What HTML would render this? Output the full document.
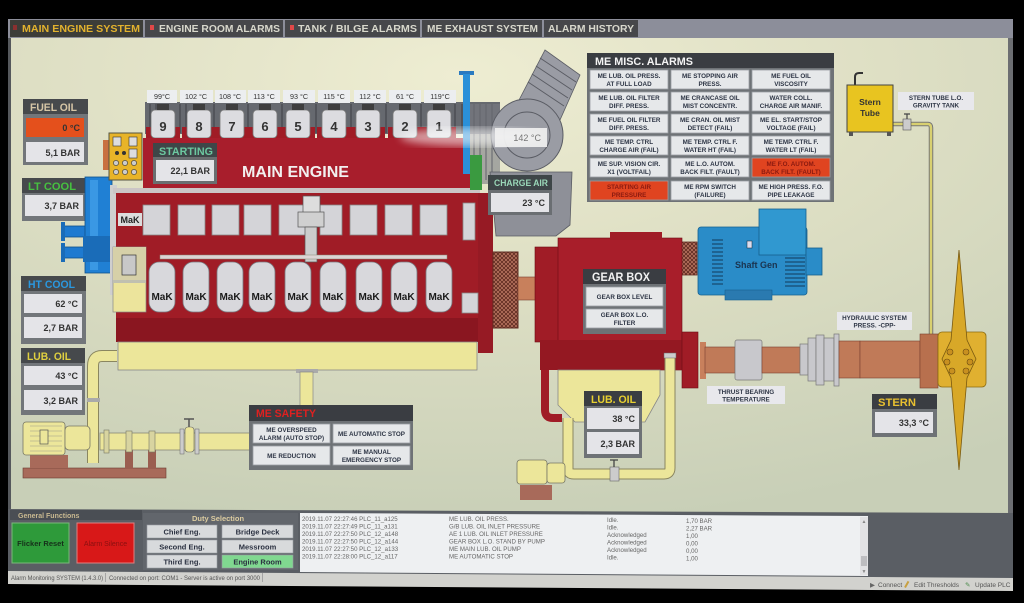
<!DOCTYPE html>
<html><head><meta charset="utf-8">
<style>
html,body{margin:0;padding:0;background:#000;overflow:hidden;}
svg{display:block;}
text{font-family:"Liberation Sans",sans-serif;}
.b{font-weight:bold;}
.m{font-family:"Liberation Mono",monospace;font-size:6.1px;fill:#666;}
.bt{font-weight:bold;font-size:6.3px;fill:#2c3444;text-anchor:middle;}
.v{font-weight:bold;font-size:9px;fill:#333;text-anchor:end;}
.h{font-weight:bold;font-size:11px;}
</style></head><body>
<svg width="1024" height="603" viewBox="0 0 1024 603" xmlns="http://www.w3.org/2000/svg">
<defs>
<radialGradient id="bg" cx="0.45" cy="0.08" r="0.95">
 <stop offset="0" stop-color="#eeedd2"/>
 <stop offset="0.45" stop-color="#dedfc4"/>
 <stop offset="1" stop-color="#c8cfb7"/>
</radialGradient>
<pattern id="mesh" width="4" height="4" patternUnits="userSpaceOnUse">
 <rect width="4" height="4" fill="#b87460"/>
 <path d="M0 0L4 4M4 0L0 4" stroke="#5e2a20" stroke-width="0.8"/>
</pattern>
<filter id="blur"><feGaussianBlur stdDeviation="4"/></filter>
</defs>
<rect width="1024" height="603" fill="#000"/>

<!-- top tab bar -->
<rect x="8" y="19" width="1005" height="19" fill="#8c8e9a"/>
<rect x="10" y="20" width="133" height="17" fill="#3c3d38"/>
<rect x="13" y="25" width="4" height="5" fill="#8a3030"/>
<text x="22" y="32" class="b" font-size="10" fill="#e2b22e" textLength="118" lengthAdjust="spacingAndGlyphs">MAIN ENGINE SYSTEM</text>
<rect x="145" y="20" width="138" height="17" fill="#46474a"/>
<rect x="150" y="25" width="4" height="5" fill="#e04848"/>
<text x="159" y="32" class="b" font-size="10" fill="#d8d8cc" textLength="121" lengthAdjust="spacingAndGlyphs">ENGINE ROOM ALARMS</text>
<rect x="285" y="20" width="135" height="17" fill="#46474a"/>
<rect x="290" y="25" width="4" height="5" fill="#e04848"/>
<text x="298" y="32" class="b" font-size="10" fill="#d8d8cc" textLength="119" lengthAdjust="spacingAndGlyphs">TANK / BILGE  ALARMS</text>
<rect x="422" y="20" width="120" height="17" fill="#46474a"/>
<text x="427" y="32" class="b" font-size="10" fill="#d8d8cc" textLength="111" lengthAdjust="spacingAndGlyphs">ME EXHAUST SYSTEM</text>
<rect x="544" y="20" width="94" height="17" fill="#46474a"/>
<text x="548" y="32" class="b" font-size="10" fill="#d8d8cc" textLength="86" lengthAdjust="spacingAndGlyphs">ALARM HISTORY</text>

<!-- canvas -->
<rect x="10" y="38" width="998" height="476" fill="url(#bg)"/>
<rect x="1008" y="38" width="5" height="478" fill="#6c6e72"/>
<rect x="8" y="38" width="3" height="475" fill="#55585c"/>

<!-- LEFT PANELS -->
<rect x="23" y="99" width="65" height="66" fill="#72767a"/>
<rect x="23" y="99" width="65" height="15" fill="#46494c"/>
<text x="30" y="111" class="h" fill="#d6c6a6" textLength="47" lengthAdjust="spacingAndGlyphs">FUEL OIL</text>
<rect x="26" y="118" width="58" height="19" fill="#e4501c"/>
<text x="80" y="131" class="v" fill="#7a2010">0 °C</text>
<rect x="26" y="142" width="58" height="20" fill="#e4e4e8"/>
<text x="80" y="156" class="v">5,1 BAR</text>

<rect x="22" y="178" width="65" height="43" fill="#72767a"/>
<rect x="22" y="178" width="65" height="15" fill="#46494c"/>
<text x="28" y="190" class="h" fill="#46c040" textLength="48" lengthAdjust="spacingAndGlyphs">LT COOL</text>
<rect x="25" y="195" width="58" height="21" fill="#e4e4e8"/>
<text x="79" y="209" class="v">3,7 BAR</text>

<rect x="21" y="276" width="65" height="68" fill="#72767a"/>
<rect x="21" y="276" width="65" height="15" fill="#46494c"/>
<text x="28" y="288" class="h" fill="#2a98e0" textLength="47" lengthAdjust="spacingAndGlyphs">HT COOL</text>
<rect x="24" y="294" width="58" height="19" fill="#e4e4e8"/>
<text x="78" y="307" class="v">62 °C</text>
<rect x="24" y="317" width="58" height="21" fill="#e4e4e8"/>
<text x="78" y="331" class="v">2,7 BAR</text>

<rect x="21" y="348" width="64" height="67" fill="#72767a"/>
<rect x="21" y="348" width="64" height="15" fill="#46494c"/>
<text x="27" y="360" class="h" fill="#e0d040" textLength="44" lengthAdjust="spacingAndGlyphs">LUB. OIL</text>
<rect x="24" y="366" width="58" height="19" fill="#e4e4e8"/>
<text x="78" y="379" class="v">43 °C</text>
<rect x="24" y="390" width="58" height="20" fill="#e4e4e8"/>
<text x="78" y="404" class="v">3,2 BAR</text>

<!-- blue pipes -->
<rect x="63" y="226" width="32" height="11" fill="#1e7ad0" stroke="#10508a" stroke-width="0.8"/>
<rect x="63" y="247" width="32" height="11" fill="#1e7ad0" stroke="#10508a" stroke-width="0.8"/>
<rect x="61" y="222" width="4" height="19" fill="#1a6cb8"/>
<rect x="61" y="243" width="4" height="19" fill="#1a6cb8"/>
<rect x="85" y="177" width="27" height="96" fill="#2080d4" stroke="#10508a" stroke-width="0.8"/>
<rect x="90" y="180" width="8" height="90" fill="#3a98e4"/>
<rect x="83" y="236" width="30" height="26" fill="#1a6cb8"/>
<!-- control box -->
<rect x="103" y="140" width="7" height="30" fill="#c87040"/>
<rect x="109" y="133" width="33" height="47" fill="#e8b428" stroke="#554" stroke-width="1"/>
<rect x="113" y="137" width="8" height="9" fill="#ddd" stroke="#333" stroke-width="0.6"/>
<rect x="129" y="137" width="8" height="9" fill="#ddd" stroke="#333" stroke-width="0.6"/>
<rect x="129" y="149" width="8" height="9" fill="#ddd" stroke="#333" stroke-width="0.6"/>
<circle cx="117" cy="153" r="2" fill="#333"/><circle cx="124" cy="153" r="2" fill="#333"/>
<circle cx="116" cy="163" r="2.6" fill="#ccc" stroke="#333" stroke-width="0.6"/><circle cx="125" cy="163" r="2.6" fill="#ccc" stroke="#333" stroke-width="0.6"/><circle cx="134" cy="163" r="2.6" fill="#ccc" stroke="#333" stroke-width="0.6"/>
<circle cx="116" cy="172" r="2.6" fill="#ccc" stroke="#333" stroke-width="0.6"/><circle cx="125" cy="172" r="2.6" fill="#ccc" stroke="#333" stroke-width="0.6"/><circle cx="134" cy="172" r="2.6" fill="#ccc" stroke="#333" stroke-width="0.6"/>

<!-- ENGINE -->
<rect x="145" y="102" width="355" height="32" fill="#66696f"/>
<g stroke="#3e4046" stroke-width="1">
<path d="M150 104V133M156 104V133M180 104V133M186 104V133M214 104V133M248 104V133M282 104V133M316 104V133M351 104V133M386 104V133M421 104V133M455 104V133M462 104V133M474 104V180M480 104V180M486 104V180M492 104V180"/>
</g>
<rect x="470" y="104" width="30" height="80" fill="#7a7c84" opacity="0.6"/>
<g fill="#a01c26">
<rect x="146" y="127" width="34" height="11"/><rect x="182" y="127" width="34" height="11"/><rect x="215" y="127" width="34" height="11"/><rect x="248" y="127" width="34" height="11"/><rect x="281" y="127" width="34" height="11"/><rect x="317" y="127" width="34" height="11"/><rect x="351" y="127" width="34" height="11"/><rect x="388" y="127" width="34" height="11"/><rect x="422" y="127" width="34" height="11"/>
</g>
<g fill="#dcdce0" stroke="#777" stroke-width="0.8">
<rect x="151" y="110" width="24" height="28" rx="4"/><rect x="187" y="110" width="24" height="28" rx="4"/><rect x="220" y="110" width="24" height="28" rx="4"/><rect x="253" y="110" width="24" height="28" rx="4"/><rect x="286" y="110" width="24" height="28" rx="4"/><rect x="322" y="110" width="24" height="28" rx="4"/><rect x="356" y="110" width="24" height="28" rx="4"/><rect x="393" y="110" width="24" height="28" rx="4"/><rect x="427" y="110" width="24" height="28" rx="4"/>
</g>
<g fill="#3e3e3e">
<rect x="157" y="104" width="12" height="6"/><rect x="193" y="104" width="12" height="6"/><rect x="226" y="104" width="12" height="6"/><rect x="259" y="104" width="12" height="6"/><rect x="292" y="104" width="12" height="6"/><rect x="328" y="104" width="12" height="6"/><rect x="362" y="104" width="12" height="6"/><rect x="399" y="104" width="12" height="6"/><rect x="433" y="104" width="12" height="6"/>
</g>
<g class="b" font-size="13" fill="#333" text-anchor="middle">
<text x="163" y="131">9</text><text x="199" y="131">8</text><text x="232" y="131">7</text><text x="265" y="131">6</text><text x="298" y="131">5</text><text x="334" y="131">4</text><text x="368" y="131">3</text><text x="405" y="131">2</text><text x="439" y="131">1</text>
</g>
<g fill="#eceef0">
<rect x="147" y="90" width="30" height="13"/><rect x="180" y="90" width="33" height="13"/><rect x="215" y="90" width="31" height="13"/><rect x="248" y="90" width="32" height="13"/><rect x="283" y="90" width="32" height="13"/><rect x="318" y="90" width="32" height="13"/><rect x="354" y="90" width="32" height="13"/><rect x="389" y="90" width="32" height="13"/><rect x="424" y="90" width="32" height="13"/>
</g>
<g font-size="7.2" fill="#333" text-anchor="middle">
<text x="162" y="99">99°C</text><text x="196" y="99">102 °C</text><text x="230" y="99">108 °C</text><text x="264" y="99">113 °C</text><text x="299" y="99">93 °C</text><text x="334" y="99">115 °C</text><text x="370" y="99">112 °C</text><text x="405" y="99">61 °C</text><text x="440" y="99">119°C</text>
</g>

<!-- upper red block -->
<rect x="143" y="138" width="327" height="50" fill="#a81e2c"/>
<rect x="153" y="143" width="64" height="41" fill="#6a6e70"/>
<rect x="153" y="143" width="64" height="14" fill="#3e4648"/>
<text x="159" y="155" class="h" fill="#6cc8a0" textLength="54" lengthAdjust="spacingAndGlyphs">STARTING</text>
<rect x="156" y="160" width="58" height="21" fill="#e4e4e8"/>
<text x="210" y="174" class="v">22,1 BAR</text>
<text x="242" y="177" class="b" font-size="16" fill="#f2f0f0" textLength="107" lengthAdjust="spacingAndGlyphs">MAIN ENGINE</text>

<!-- lower engine body -->
<rect x="110" y="185" width="7" height="110" fill="#cfcfcf"/>
<rect x="113" y="188" width="367" height="6" fill="#cbc6c6"/>
<rect x="116" y="193" width="377" height="132" fill="#a01c26"/>
<rect x="116" y="318" width="364" height="24" fill="#8a1620"/>
<rect x="478" y="193" width="15" height="160" fill="#961a24"/>
<rect x="118" y="213" width="24" height="13" fill="#dcdcdc"/>
<text x="130" y="223" class="b" font-size="9" fill="#222" text-anchor="middle">MaK</text>
<g fill="#d4d4d8" stroke="#888" stroke-width="0.8">
<rect x="143" y="205" width="27" height="30"/><rect x="178" y="205" width="27" height="30"/><rect x="212" y="205" width="27" height="30"/><rect x="244" y="205" width="27" height="30"/><rect x="279" y="205" width="27" height="30"/><rect x="320" y="205" width="22" height="30"/><rect x="350" y="205" width="27" height="30"/><rect x="385" y="205" width="27" height="30"/><rect x="420" y="205" width="27" height="30"/>
<rect x="463" y="203" width="12" height="37"/>
<rect x="462" y="293" width="16" height="20"/>
</g>
<!-- instrument -->
<rect x="303" y="196" width="17" height="18" fill="#ddd" stroke="#555" stroke-width="0.7"/>
<rect x="298" y="212" width="26" height="15" fill="#d0d0d0" stroke="#555" stroke-width="0.7"/>
<rect x="305" y="227" width="12" height="35" fill="#ccc" stroke="#555" stroke-width="0.7"/>
<rect x="160" y="255" width="287" height="4" fill="#dcd4d4" stroke="#887" stroke-width="0.5"/>
<g fill="#d8d8dc" stroke="#7a7a80" stroke-width="0.8">
<rect x="149" y="262" width="26" height="50" rx="10"/><rect x="183" y="262" width="26" height="50" rx="10"/><rect x="217" y="262" width="26" height="50" rx="10"/><rect x="249" y="262" width="26" height="50" rx="10"/><rect x="285" y="262" width="26" height="50" rx="10"/><rect x="320" y="262" width="26" height="50" rx="10"/><rect x="356" y="262" width="26" height="50" rx="10"/><rect x="391" y="262" width="26" height="50" rx="10"/><rect x="426" y="262" width="26" height="50" rx="10"/>
</g>
<g class="b" font-size="10" fill="#1a1a1a" text-anchor="middle">
<text x="162" y="300">MaK</text><text x="196" y="300">MaK</text><text x="230" y="300">MaK</text><text x="262" y="300">MaK</text><text x="298" y="300">MaK</text><text x="333" y="300">MaK</text><text x="369" y="300">MaK</text><text x="404" y="300">MaK</text><text x="439" y="300">MaK</text>
</g>
<!-- governor box -->
<rect x="113" y="247" width="33" height="65" fill="#ece49c" stroke="#888" stroke-width="0.7"/>
<rect x="113" y="247" width="33" height="33" fill="#d6d0a8"/>
<rect x="122" y="255" width="14" height="20" fill="#c8c8c8" stroke="#333" stroke-width="0.7"/>
<rect x="113" y="280" width="33" height="3" fill="#c0c0b0"/>
<!-- coupling -->
<rect x="493" y="252" width="25" height="76" fill="url(#mesh)" stroke="#5e2a20" stroke-width="1"/>
<!-- sump -->
<rect x="118" y="342" width="359" height="28" fill="#ece69a" stroke="#888" stroke-width="0.8"/>
<rect x="296" y="369" width="22" height="4" fill="#aaa"/>
<rect x="300" y="372" width="13" height="34" fill="#ece69a" stroke="#888" stroke-width="0.7"/>
<!-- left lub pipe -->
<path d="M117 356 L102 356 Q93 356 93 366 L93 463" fill="none" stroke="#8a8660" stroke-width="12"/>
<path d="M117 356 L102 356 Q93 356 93 366 L93 463" fill="none" stroke="#ece69a" stroke-width="10"/>
<rect x="87" y="398" width="13" height="4" fill="#aaa"/>
<!-- left pump -->
<rect x="23" y="468" width="143" height="10" fill="#a86a5a" stroke="#6a3a30" stroke-width="0.6"/>
<rect x="30" y="455" width="38" height="13" fill="#a86a5a"/>
<rect x="125" y="450" width="8" height="19" fill="#9a5e50"/>
<rect x="148" y="450" width="8" height="19" fill="#9a5e50"/>
<rect x="23" y="422" width="42" height="33" rx="3" fill="#ece69a" stroke="#776" stroke-width="0.8"/>
<g stroke="#998" stroke-width="0.6"><path d="M30 426H62M30 431H62M30 436H62M30 441H62M30 446H62M30 451H62"/></g>
<rect x="40" y="430" width="8" height="14" fill="#ece69a" stroke="#555" stroke-width="0.7"/>
<rect x="65" y="426" width="25" height="24" rx="4" fill="#ece69a" stroke="#776" stroke-width="0.8"/>
<rect x="100" y="433" width="150" height="17" fill="#ece69a" stroke="#887" stroke-width="0.8"/>
<rect x="104" y="430" width="5" height="23" fill="#d8d4a0" stroke="#776" stroke-width="0.6"/>
<rect x="126" y="431" width="6" height="21" fill="#d8d4a0" stroke="#776" stroke-width="0.6"/>
<rect x="149" y="431" width="6" height="21" fill="#d8d4a0" stroke="#776" stroke-width="0.6"/>
<rect x="180" y="429" width="4" height="25" fill="#ccc" stroke="#666" stroke-width="0.5"/>
<rect x="195" y="429" width="4" height="25" fill="#ccc" stroke="#666" stroke-width="0.5"/>
<rect x="185" y="427" width="9" height="25" rx="3" fill="#ece69a" stroke="#666" stroke-width="0.6"/>
<path d="M189 427V419M184 419H194" stroke="#555" stroke-width="1.5"/>

<!-- TURBO -->
<path d="M490 172 L572 172 L570 225 L556 236 L496 236 Z" fill="#8e9098" stroke="#5a5c64" stroke-width="0.8"/>
<polygon points="518,102 545,50 580,75 560,120" fill="#9a9ca4" stroke="#5a5c64" stroke-width="0.8"/>
<g stroke="#5a5c64" stroke-width="1"><path d="M540 58L576 82M536 66L572 90M532 74L568 98M528 82L564 106"/></g>
<circle cx="527" cy="135" r="36" fill="#9a9ca4" stroke="#5a5c64" stroke-width="1"/>
<circle cx="527" cy="135" r="23" fill="none" stroke="#5a5c64" stroke-width="1"/>
<rect x="459" y="71" width="15" height="4" fill="#2a7ac0"/>
<rect x="463" y="74" width="7" height="100" fill="#2a90d8"/>
<rect x="470" y="155" width="12" height="35" fill="#3a9a40"/>
<ellipse cx="470" cy="137" rx="70" ry="9" fill="#ffffff" opacity="0.55" filter="url(#blur)"/>
<rect x="495" y="128" width="52" height="19" fill="#f2f2f2" opacity="0.9"/>
<text x="541" y="141" font-size="9" fill="#777" text-anchor="end">142 °C</text>
<rect x="488" y="175" width="64" height="40" fill="#6a6e72"/>
<rect x="488" y="175" width="64" height="15" fill="#3e4648"/>
<text x="494" y="186" class="b" font-size="9.5" fill="#9ad8b8" textLength="54" lengthAdjust="spacingAndGlyphs">CHARGE AIR</text>
<rect x="491" y="193" width="58" height="19" fill="#e4e4e8"/>
<text x="545" y="206" class="v">23 °C</text>

<!-- ME MISC ALARMS -->
<rect x="587" y="53" width="247" height="149" fill="#6e7276"/>
<rect x="587" y="53" width="247" height="15" fill="#3a3d42"/>
<text x="595" y="65" class="h" fill="#f4f4f4" textLength="98" lengthAdjust="spacingAndGlyphs">ME MISC. ALARMS</text>
<g fill="#e6e8ea" stroke="#9a9ea4" stroke-width="0.8">
<rect x="590" y="70" width="78" height="19"/><rect x="671" y="70" width="78" height="19"/><rect x="752" y="70" width="78" height="19"/>
<rect x="590" y="92" width="78" height="19"/><rect x="671" y="92" width="78" height="19"/><rect x="752" y="92" width="78" height="19"/>
<rect x="590" y="114" width="78" height="19"/><rect x="671" y="114" width="78" height="19"/><rect x="752" y="114" width="78" height="19"/>
<rect x="590" y="136" width="78" height="19"/><rect x="671" y="136" width="78" height="19"/><rect x="752" y="136" width="78" height="19"/>
<rect x="590" y="158" width="78" height="19"/><rect x="671" y="158" width="78" height="19"/><rect x="752" y="158" width="78" height="19" fill="#e04420"/>
<rect x="590" y="181" width="78" height="19" fill="#e04420"/><rect x="671" y="181" width="78" height="19"/><rect x="752" y="181" width="78" height="19"/>
</g>
<g class="bt">
<text x="629" y="78">ME LUB. OIL PRESS.</text><text x="629" y="86">AT FULL LOAD</text>
<text x="710" y="78">ME STOPPING AIR</text><text x="710" y="86">PRESS.</text>
<text x="791" y="78">ME FUEL OIL</text><text x="791" y="86">VISCOSITY</text>
<text x="629" y="100">ME LUB. OIL FILTER</text><text x="629" y="108">DIFF. PRESS.</text>
<text x="710" y="100">ME CRANCASE OIL</text><text x="710" y="108">MIST CONCENTR.</text>
<text x="791" y="100">WATER COLL.</text><text x="791" y="108">CHARGE AIR MANIF.</text>
<text x="629" y="122">ME FUEL OIL FILTER</text><text x="629" y="130">DIFF. PRESS.</text>
<text x="710" y="122">ME CRAN. OIL MIST</text><text x="710" y="130">DETECT (FAIL)</text>
<text x="791" y="122">ME EL. START/STOP</text><text x="791" y="130">VOLTAGE (FAIL)</text>
<text x="629" y="144">ME TEMP. CTRL</text><text x="629" y="152">CHARGE AIR (FAIL)</text>
<text x="710" y="144">ME TEMP. CTRL F.</text><text x="710" y="152">WATER HT (FAIL)</text>
<text x="791" y="144">ME TEMP. CTRL F.</text><text x="791" y="152">WATER LT (FAIL)</text>
<text x="629" y="166">ME SUP. VISION CIR.</text><text x="629" y="174">X1 (VOLTFAIL)</text>
<text x="710" y="166">ME L.O. AUTOM.</text><text x="710" y="174">BACK FILT. (FAULT)</text>
<text x="791" y="166" fill="#8a1a10">ME F.O. AUTOM.</text><text x="791" y="174" fill="#8a1a10">BACK FILT. (FAULT)</text>
<text x="629" y="189" fill="#8a1a10">STARTING AIR</text><text x="629" y="197" fill="#8a1a10">PRESSURE</text>
<text x="710" y="189">ME RPM SWITCH</text><text x="710" y="197">(FAILURE)</text>
<text x="791" y="189">ME HIGH PRESS. F.O.</text><text x="791" y="197">PIPE LEAKAGE</text>
</g>

<!-- STERN TUBE -->
<path d="M855 86 L855 77 Q855 73 859 73 L863 73" fill="none" stroke="#333" stroke-width="2"/>
<path d="M893 124 L928 124 Q931 124 931 128 L931 335" fill="none" stroke="#777" stroke-width="4.5"/>
<path d="M893 124 L928 124 Q931 124 931 128 L931 335" fill="none" stroke="#d8d070" stroke-width="2.5"/>
<rect x="903" y="119" width="8" height="11" fill="#ccc" stroke="#555" stroke-width="0.6"/>
<path d="M907 119V114M904 114H910" stroke="#444" stroke-width="1.2"/>
<rect x="847" y="85" width="46" height="47" fill="#e8c420" stroke="#444" stroke-width="1"/>
<rect x="849" y="132" width="4" height="4" fill="#555"/><rect x="887" y="132" width="4" height="4" fill="#555"/>
<text x="870" y="105" class="b" font-size="8.5" fill="#333" text-anchor="middle">Stern</text>
<text x="870" y="116" class="b" font-size="8.5" fill="#333" text-anchor="middle">Tube</text>
<rect x="898" y="92" width="76" height="18" fill="#e8e8ec"/>
<text x="936" y="100" class="bt">STERN TUBE L.O.</text>
<text x="936" y="107.5" class="bt">GRAVITY TANK</text>

<!-- GEARBOX -->
<rect x="518" y="277" width="30" height="23" fill="#c8805c" stroke="#7a4030" stroke-width="0.6"/>
<rect x="660" y="250" width="20" height="15" fill="#c8805c"/>
<rect x="675" y="242" width="22" height="33" fill="url(#mesh)" stroke="#5e2a20" stroke-width="0.8"/>
<path d="M545 300 L545 410 Q545 418 553 418 L562 418" fill="none" stroke="#a01c26" stroke-width="8"/>
<rect x="535" y="247" width="25" height="95" fill="#a01c26" stroke="#6a0c14" stroke-width="0.6"/>
<rect x="558" y="238" width="124" height="132" fill="#a81e2a" stroke="#6a0c14" stroke-width="0.6"/>
<rect x="610" y="232" width="52" height="8" fill="#a01c26"/>
<rect x="540" y="340" width="150" height="30" fill="#941822"/>
<rect x="682" y="332" width="16" height="56" fill="#a01c26" stroke="#6a0c14" stroke-width="0.6"/>
<polygon points="558,370 660,370 660,395 645,422 575,422 558,405" fill="#ece69a" stroke="#888" stroke-width="0.8"/>
<rect x="583" y="269" width="83" height="65" fill="#6e7276"/>
<rect x="583" y="269" width="83" height="15" fill="#3a3d42"/>
<text x="592" y="281" class="b" font-size="11.5" fill="#f2f2f2" textLength="58" lengthAdjust="spacingAndGlyphs">GEAR BOX</text>
<rect x="586" y="287" width="77" height="19" fill="#e6e8ea" stroke="#9a9ea4" stroke-width="0.8"/>
<rect x="586" y="309" width="77" height="19" fill="#e6e8ea" stroke="#9a9ea4" stroke-width="0.8"/>
<text x="624.5" y="299" class="bt">GEAR BOX LEVEL</text>
<text x="624.5" y="317" class="bt">GEAR BOX L.O.</text>
<text x="624.5" y="325" class="bt">FILTER</text>

<!-- shaft gen -->
<rect x="698" y="227" width="109" height="68" rx="3" fill="#2a8cc8" stroke="#16608e" stroke-width="0.8"/>
<rect x="759" y="209" width="47" height="46" fill="#3098d0" stroke="#16608e" stroke-width="0.8"/>
<rect x="806" y="248" width="16" height="27" fill="#2a8cc8" stroke="#16608e" stroke-width="0.8"/>
<rect x="725" y="290" width="47" height="10" fill="#2a7ab0" stroke="#16608e" stroke-width="0.6"/>
<g stroke="#123a5a" stroke-width="0.9"><path d="M712 240H723M712 244H723M712 248H723M712 252H723M712 256H723M712 260H723M712 264H723M712 268H723M712 272H723M712 276H723M712 280H723M712 284H723M785 258H805M785 262H805M785 266H805M785 270H805M785 274H805M785 278H805M785 282H805M785 286H805"/></g>
<rect x="747" y="241" width="5" height="7" fill="#dde" stroke="#123" stroke-width="0.5"/>
<text x="735" y="268" class="b" font-size="9" fill="#1a3450">Shaft Gen</text>

<!-- gearbox lub pipes -->
<path d="M568 418 L568 469 Q568 474 574 474 L664 474 Q670 474 670 468 L670 355" fill="none" stroke="#8a8660" stroke-width="11"/>
<path d="M568 418 L568 469 Q568 474 574 474 L664 474 Q670 474 670 468 L670 355" fill="none" stroke="#ece69a" stroke-width="9"/>
<rect x="664" y="353" width="12" height="5" fill="#ccc" stroke="#666" stroke-width="0.5"/>
<rect x="610" y="467" width="9" height="14" fill="#ccc" stroke="#666" stroke-width="0.6"/>
<path d="M614 467V460M610 460H618" stroke="#444" stroke-width="1.3"/>
<rect x="520" y="485" width="32" height="15" fill="#a86a5a"/>
<rect x="517" y="460" width="30" height="24" rx="3" fill="#ece69a" stroke="#776" stroke-width="0.8"/>
<rect x="547" y="463" width="18" height="20" rx="3" fill="#ece69a" stroke="#776" stroke-width="0.8"/>
<rect x="584" y="391" width="58" height="67" fill="#6e7276"/>
<rect x="584" y="391" width="58" height="15" fill="#3a3d42"/>
<text x="591" y="403" class="h" fill="#e8d030" textLength="45" lengthAdjust="spacingAndGlyphs">LUB. OIL</text>
<rect x="587" y="408" width="52" height="21" fill="#e4e4e8"/>
<text x="635" y="422" class="v">38 °C</text>
<rect x="587" y="432" width="52" height="22" fill="#e4e4e8"/>
<text x="635" y="447" class="v">2,3 BAR</text>

<!-- propeller shaft -->
<rect x="700" y="342" width="6" height="37" fill="#c8805c"/>
<rect x="705" y="347" width="30" height="26" fill="#c07a58" stroke="#7a4030" stroke-width="0.6"/>
<rect x="735" y="340" width="27" height="40" rx="2" fill="#c8c8cc" stroke="#777" stroke-width="0.7"/>
<rect x="762" y="347" width="38" height="26" fill="#c07a58" stroke="#7a4030" stroke-width="0.6"/>
<g fill="#c8c8cc" stroke="#777" stroke-width="0.7">
<rect x="800" y="344" width="8" height="31"/><rect x="808" y="338" width="8" height="43"/><rect x="816" y="335" width="8" height="50"/><rect x="824" y="338" width="10" height="43"/><rect x="834" y="334" width="5" height="52"/>
</g>
<rect x="839" y="341" width="21" height="37" fill="#c07a58" stroke="#7a4030" stroke-width="0.6"/>
<rect x="860" y="341" width="60" height="37" fill="#c07a58" stroke="#7a4030" stroke-width="0.6"/>
<rect x="920" y="334" width="18" height="54" fill="#b8704e" stroke="#7a4030" stroke-width="0.6"/>
<rect x="938" y="332" width="48" height="55" rx="4" fill="#e0b030" stroke="#8a6a10" stroke-width="0.8"/>
<polygon points="959,250 967,340 976,359 967,378 959,470 951,378 942,359 951,340" fill="#d8a828" stroke="#7a5a10" stroke-width="0.8"/>
<g fill="#c89020" stroke="#6a4a10" stroke-width="0.6">
<circle cx="950" cy="352" r="3"/><circle cx="947" cy="362" r="3"/><circle cx="952" cy="371" r="3"/><circle cx="966" cy="352" r="3"/><circle cx="970" cy="362" r="3"/><circle cx="966" cy="371" r="3"/>
</g>
<rect x="707" y="386" width="78" height="18" fill="#e8e8ec"/>
<text x="746" y="394" class="bt">THRUST BEARING</text>
<text x="746" y="401.5" class="bt">TEMPERATURE</text>
<rect x="837" y="312" width="75" height="18" fill="#e8e8ec"/>
<text x="874.5" y="320" class="bt">HYDRAULIC SYSTEM</text>
<text x="874.5" y="327.5" class="bt">PRESS. -CPP-</text>
<rect x="872" y="394" width="65" height="43" fill="#6e7276"/>
<rect x="872" y="394" width="65" height="15" fill="#3a3d42"/>
<text x="878" y="406" class="h" fill="#e8c030" textLength="38" lengthAdjust="spacingAndGlyphs">STERN</text>
<rect x="875" y="412" width="58" height="21" fill="#e4e4e8"/>
<text x="929" y="426" class="v">33,3 °C</text>

<!-- ME SAFETY -->
<rect x="249" y="405" width="164" height="65" fill="#6e7276"/>
<rect x="249" y="405" width="164" height="16" fill="#3a3d42"/>
<text x="256" y="417" class="h" fill="#e02020" textLength="60" lengthAdjust="spacingAndGlyphs">ME SAFETY</text>
<g fill="#e6e8ea" stroke="#9a9ea4" stroke-width="0.8">
<rect x="253" y="424" width="77" height="19"/><rect x="333" y="424" width="77" height="19"/>
<rect x="253" y="446" width="77" height="19"/><rect x="333" y="446" width="77" height="19"/>
</g>
<g class="bt">
<text x="291.5" y="432">ME OVERSPEED</text><text x="291.5" y="440">ALARM (AUTO STOP)</text>
<text x="371.5" y="436">ME AUTOMATIC STOP</text>
<text x="291.5" y="458">ME REDUCTION</text>
<text x="371.5" y="454">ME MANUAL</text><text x="371.5" y="462">EMERGENCY STOP</text>
</g>

<!-- BOTTOM PANEL -->
<polygon points="8,509 1013,513 1013,580 8,574" fill="#5a5e64"/>
<rect x="10" y="510" width="132" height="10" fill="#4a4e54"/>
<text x="18" y="518" class="b" font-size="7" fill="#c8b890">General Functions</text>
<rect x="12" y="523" width="57" height="40" fill="#2e9a3a" stroke="#7ab87a" stroke-width="1"/>
<text x="40.5" y="546" class="b" font-size="7.5" fill="#16301a" text-anchor="middle">Flicker Reset</text>
<rect x="77" y="523" width="57" height="40" fill="#d81818" stroke="#e08080" stroke-width="1"/>
<text x="105.5" y="546" font-size="7" fill="#8a1010" text-anchor="middle">Alarm Silence</text>
<rect x="143" y="513" width="155" height="57" fill="#62666c"/>
<text x="218" y="521" class="b" font-size="7.5" fill="#dccca0" text-anchor="middle">Duty Selection</text>
<g fill="#d8dadc" stroke="#9a9ea4" stroke-width="0.6">
<rect x="147" y="525" width="70" height="13"/><rect x="222" y="525" width="71" height="13"/>
<rect x="147" y="540" width="70" height="13"/><rect x="222" y="540" width="71" height="13"/>
<rect x="147" y="555" width="70" height="13"/><rect x="222" y="555" width="71" height="13" fill="#80d890"/>
</g>
<g class="b" font-size="7.5" fill="#2a3040" text-anchor="middle">
<text x="182" y="534.5">Chief Eng.</text><text x="257.5" y="534.5">Bridge Deck</text>
<text x="182" y="549.5">Second Eng.</text><text x="257.5" y="549.5">Messroom</text>
<text x="182" y="564.5">Third Eng.</text><text x="257.5" y="564.5">Engine Room</text>
</g>
<polygon points="300,513 868,516 868,576 300,572" fill="#eef0f2"/>
<rect x="860" y="517" width="8" height="58" fill="#e2e2e4"/>
<rect x="861" y="556" width="6" height="10" fill="#bdbdc0"/>
<text x="864" y="523" font-size="5" fill="#888" text-anchor="middle">▲</text>
<text x="864" y="573" font-size="5" fill="#888" text-anchor="middle">▼</text>
<g class="m">
<text x="302" y="521">2019.11.07 22:27:46 PLC_11_a125</text><text x="449" y="521">ME LUB. OIL PRESS.</text><text x="607" y="522">Idle.</text><text x="686" y="523">1,70 BAR</text>
<text x="302" y="528.5">2019.11.07 22:27:49 PLC_11_a131</text><text x="449" y="528.5">G/B LUB. OIL INLET PRESSURE</text><text x="607" y="529.5">Idle.</text><text x="686" y="530.5">2,27 BAR</text>
<text x="302" y="536">2019.11.07 22:27:50 PLC_12_a148</text><text x="449" y="536">AE 1 LUB. OIL INLET PRESSURE</text><text x="607" y="537">Acknowledged</text><text x="686" y="538">1,00</text>
<text x="302" y="543.5">2019.11.07 22:27:50 PLC_12_a144</text><text x="449" y="543.5">GEAR BOX L.O. STAND BY PUMP</text><text x="607" y="544.5">Acknowledged</text><text x="686" y="545.5">0,00</text>
<text x="302" y="551">2019.11.07 22:27:50 PLC_12_a133</text><text x="449" y="551">ME MAIN LUB. OIL PUMP</text><text x="607" y="552">Acknowledged</text><text x="686" y="553">0,00</text>
<text x="302" y="558.5">2019.11.07 22:28:00 PLC_12_a117</text><text x="449" y="558.5">ME AUTOMATIC STOP</text><text x="607" y="559.5">Idle.</text><text x="686" y="560.5">1,00</text>
</g>

<!-- status bar -->
<polygon points="8,571 1013,578 1013,591 8,584" fill="#d2d2ce"/>
<text x="11" y="580" font-size="6.5" fill="#555" textLength="92" lengthAdjust="spacingAndGlyphs">Alarm Monitoring SYSTEM (1.4.3.0)</text>
<rect x="105" y="573" width="0.8" height="9" fill="#999"/>
<text x="109" y="580" font-size="6.5" fill="#555" textLength="151" lengthAdjust="spacingAndGlyphs">Connected on port: COM1 - Server is active on port 3000</text>
<rect x="262" y="573" width="0.8" height="9" fill="#999"/>
<text x="870" y="587" font-size="6.5" fill="#666">▶</text>
<text x="878" y="587" font-size="6.5" fill="#555">Connect</text>
<rect x="906" y="581" width="2" height="7" fill="#c8a040" transform="rotate(30 907 584)"/>
<text x="914" y="587" font-size="6.5" fill="#555">Edit Thresholds</text>
<text x="965" y="587" font-size="6.5" fill="#4a8a4a">✎</text>
<text x="975" y="587" font-size="6.5" fill="#555">Update PLC</text>
</svg>
</body></html>
